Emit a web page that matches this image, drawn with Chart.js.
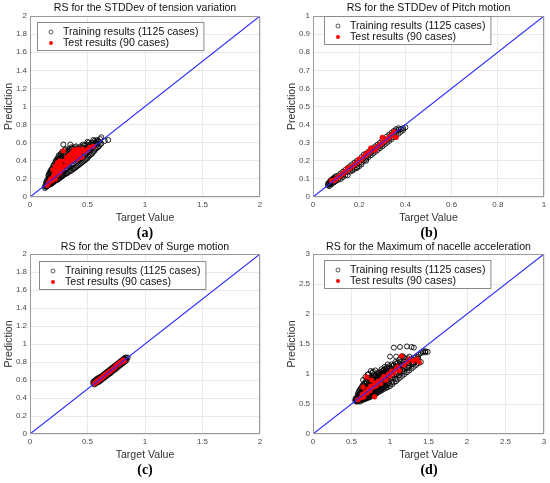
<!DOCTYPE html>
<html>
<head>
<meta charset="utf-8">
<script src="https://cdn.jsdelivr.net/npm/chart.js@4.4.1/dist/chart.umd.min.js"></script>
<style>
  body { margin: 0; background: #fff; width: 550px; height: 483px; position: relative; overflow: hidden; }
  canvas { position: absolute; }
  .tag { position: absolute; width: 40px; text-align: center; font-family: "Liberation Serif", "DejaVu Serif", serif;
         font-size: 14px; font-weight: bold; color: #000; line-height: 16px; }
</style>
</head>
<body>
<canvas id="cA" width="275" height="240" style="left:0;top:0"></canvas>
<canvas id="cB" width="275" height="240" style="left:275px;top:0"></canvas>
<canvas id="cC" width="275" height="243" style="left:0;top:240px"></canvas>
<canvas id="cD" width="275" height="243" style="left:275px;top:240px"></canvas>
<div class="tag" style="left:125px;top:225px">(a)</div>
<div class="tag" style="left:409px;top:225px">(b)</div>
<div class="tag" style="left:125px;top:462px">(c)</div>
<div class="tag" style="left:409px;top:462px">(d)</div>
<script>
// titles / labels
const titles = [
  'RS for the STDDev of tension variation',
  'RS for the STDDev of Pitch motion',
  'RS for the STDDev of Surge motion',
  'RS for the Maximum of nacelle acceleration'
];
const trainLabel = 'Training results (1125 cases)';
const testLabel = 'Test results (90 cases)';

// tick values
const ticks2 = [0, 0.2, 0.4, 0.6, 0.8, 1, 1.2, 1.4, 1.6, 1.8, 2];
const ticks2x = [0, 0.5, 1, 1.5, 2];
const ticks1 = [0, 0.1, 0.2, 0.3, 0.4, 0.5, 0.6, 0.7, 0.8, 0.9, 1];
const ticks1x = [0, 0.2, 0.4, 0.6, 0.8, 1];
const ticks3 = [0, 0.5, 1, 1.5, 2, 2.5, 3];

// training results, read per column: [target, [predictions...]]
const trainA = [
  [0.13, [0.10, 0.12]], [0.14, [0.11, 0.14, 0.16]], [0.15, [0.12, 0.15, 0.19]],
  [0.16, [0.13, 0.17, 0.21, 0.24]], [0.17, [0.14, 0.19, 0.23, 0.27]],
  [0.18, [0.14, 0.18, 0.22, 0.26, 0.29]], [0.19, [0.15, 0.20, 0.25, 0.31]],
  [0.20, [0.16, 0.19, 0.23, 0.28, 0.33]], [0.21, [0.17, 0.22, 0.26, 0.30, 0.36]],
  [0.22, [0.18, 0.21, 0.25, 0.29, 0.34, 0.38]], [0.23, [0.19, 0.24, 0.31, 0.37, 0.41]],
  [0.24, [0.19, 0.23, 0.27, 0.33, 0.39, 0.43]], [0.25, [0.20, 0.25, 0.30, 0.36, 0.42, 0.46]],
  [0.26, [0.21, 0.28, 0.34, 0.40, 0.45]], [0.27, [0.22, 0.26, 0.31, 0.38, 0.44, 0.48]],
  [0.28, [0.23, 0.29, 0.35, 0.42, 0.50]], [0.29, [0.24, 0.27, 0.33, 0.39, 0.46, 0.58]],
  [0.30, [0.25, 0.30, 0.37, 0.43, 0.49, 0.52]], [0.32, [0.26, 0.32, 0.38, 0.45, 0.51]],
  [0.34, [0.28, 0.34, 0.41, 0.47, 0.53]], [0.35, [0.29, 0.38, 0.46, 0.52, 0.58]],
  [0.36, [0.29, 0.36, 0.43, 0.50, 0.55]], [0.38, [0.31, 0.37, 0.44, 0.52]],
  [0.40, [0.33, 0.39, 0.46, 0.53, 0.56]], [0.42, [0.35, 0.41, 0.48, 0.54]],
  [0.44, [0.37, 0.43, 0.50, 0.56]], [0.46, [0.39, 0.45, 0.52, 0.58]],
  [0.48, [0.41, 0.47, 0.54]], [0.50, [0.43, 0.49, 0.55, 0.61]],
  [0.52, [0.46, 0.52, 0.58]], [0.54, [0.48, 0.54, 0.60]], [0.56, [0.51, 0.57, 0.62]],
  [0.58, [0.54, 0.59, 0.63]], [0.60, [0.56, 0.61]], [0.62, [0.59, 0.66]],
  [0.65, [0.62]], [0.68, [0.63]],
  [0.145, [0.12, 0.17]], [0.165, [0.15, 0.20, 0.25]], [0.185, [0.16, 0.21, 0.27, 0.30]],
  [0.205, [0.18, 0.24, 0.30, 0.35]], [0.225, [0.19, 0.27, 0.32, 0.40]],
  [0.245, [0.21, 0.29, 0.35, 0.41]], [0.265, [0.23, 0.30, 0.37, 0.43, 0.47]],
  [0.285, [0.24, 0.32, 0.40, 0.47]], [0.31, [0.26, 0.34, 0.41, 0.48, 0.53]],
  [0.33, [0.27, 0.35, 0.43, 0.50]], [0.37, [0.31, 0.40, 0.47, 0.54]],
  [0.39, [0.32, 0.41, 0.49, 0.55]], [0.41, [0.34, 0.43, 0.51]], [0.43, [0.36, 0.45, 0.53]],
  [0.45, [0.38, 0.47, 0.55]], [0.47, [0.40, 0.49, 0.57]], [0.49, [0.42, 0.51, 0.58]],
  [0.51, [0.45, 0.53, 0.60]], [0.53, [0.47, 0.56]], [0.55, [0.50, 0.58, 0.63]],
  [0.57, [0.53, 0.60]], [0.59, [0.55, 0.62]], [0.61, [0.58, 0.64]]
];
const trainB = [
  [0.065, [0.065, 0.075]], [0.07, [0.06, 0.07, 0.08]], [0.075, [0.07, 0.08, 0.09]],
  [0.08, [0.07, 0.085, 0.095]], [0.085, [0.08, 0.09, 0.10]], [0.09, [0.08, 0.095, 0.105]],
  [0.095, [0.085, 0.10, 0.11]], [0.10, [0.09, 0.10, 0.115]], [0.11, [0.095, 0.105, 0.12]],
  [0.12, [0.10, 0.115, 0.13]], [0.13, [0.11, 0.125, 0.14]], [0.14, [0.12, 0.135, 0.15]],
  [0.15, [0.12, 0.14, 0.16]], [0.16, [0.14, 0.155, 0.17]], [0.17, [0.145, 0.15, 0.165, 0.18]],
  [0.18, [0.155, 0.175, 0.19]], [0.19, [0.16, 0.165, 0.185, 0.20]], [0.20, [0.17, 0.19, 0.205]],
  [0.21, [0.18, 0.19, 0.205, 0.22]], [0.22, [0.20, 0.215, 0.235]], [0.23, [0.20, 0.21, 0.225, 0.24]],
  [0.24, [0.22, 0.235, 0.25]], [0.25, [0.23, 0.245, 0.26]], [0.26, [0.24, 0.255, 0.27]],
  [0.27, [0.25, 0.265, 0.28]], [0.28, [0.26, 0.275, 0.29]], [0.29, [0.27, 0.285, 0.30]],
  [0.30, [0.28, 0.295, 0.315]], [0.31, [0.29, 0.305, 0.32]], [0.32, [0.30, 0.315, 0.335]],
  [0.33, [0.31, 0.325, 0.345]], [0.34, [0.32, 0.34, 0.355]], [0.35, [0.33, 0.35, 0.365]],
  [0.36, [0.34, 0.36, 0.375]], [0.37, [0.35, 0.37, 0.38]], [0.38, [0.36, 0.375]],
  [0.39, [0.37, 0.38]], [0.40, [0.385]]
];
const trainC = [
  [0.55, [0.56, 0.58]], [0.56, [0.55, 0.57, 0.59]], [0.57, [0.56, 0.585, 0.60]],
  [0.58, [0.57, 0.59, 0.61]], [0.59, [0.575, 0.60, 0.62]], [0.60, [0.58, 0.605, 0.62]],
  [0.61, [0.59, 0.61, 0.635]], [0.62, [0.60, 0.625, 0.64]], [0.63, [0.61, 0.63, 0.65]],
  [0.64, [0.62, 0.645, 0.66]], [0.65, [0.63, 0.65, 0.67]], [0.66, [0.64, 0.665, 0.68]],
  [0.67, [0.65, 0.67, 0.69]], [0.68, [0.66, 0.685, 0.70]], [0.69, [0.67, 0.69, 0.71]],
  [0.70, [0.675, 0.70, 0.72]], [0.71, [0.69, 0.71, 0.73]], [0.72, [0.70, 0.725, 0.74]],
  [0.73, [0.71, 0.73, 0.75]], [0.74, [0.72, 0.745, 0.76]], [0.75, [0.725, 0.75, 0.77]],
  [0.76, [0.74, 0.765, 0.78]], [0.77, [0.75, 0.77, 0.79]], [0.78, [0.76, 0.785, 0.80]],
  [0.79, [0.77, 0.79, 0.81]], [0.80, [0.78, 0.805, 0.82]], [0.81, [0.79, 0.81, 0.83]],
  [0.82, [0.80, 0.825, 0.84]], [0.83, [0.81, 0.83, 0.85]], [0.84, [0.82, 0.845]],
  [0.85, [0.85]]
];
const trainD = [
  [0.55, [0.55, 0.58]], [0.57, [0.54, 0.57, 0.61]], [0.59, [0.55, 0.59, 0.64, 0.69]],
  [0.61, [0.54, 0.58, 0.62, 0.67, 0.73]], [0.63, [0.56, 0.60, 0.65, 0.71, 0.77]],
  [0.65, [0.57, 0.62, 0.68, 0.74, 0.82, 0.90]], [0.67, [0.58, 0.64, 0.70, 0.77, 0.85]],
  [0.69, [0.59, 0.65, 0.72, 0.79, 0.88]], [0.71, [0.60, 0.67, 0.74, 0.81, 0.90, 0.99]],
  [0.73, [0.61, 0.68, 0.76, 0.84, 0.93]], [0.75, [0.62, 0.70, 0.78, 0.86, 0.95, 1.05]],
  [0.77, [0.64, 0.72, 0.80, 0.88, 1.02]], [0.79, [0.65, 0.73, 0.82, 0.90, 0.97]],
  [0.81, [0.66, 0.75, 0.84, 0.92, 1.06]], [0.83, [0.68, 0.77, 0.86, 0.94]],
  [0.85, [0.70, 0.79, 0.88, 0.96, 1.03]], [0.87, [0.71, 0.81, 0.90, 0.98]],
  [0.89, [0.73, 0.83, 0.92, 1.00, 1.08]], [0.91, [0.74, 0.84, 0.94, 1.02]],
  [0.93, [0.76, 0.86, 0.96, 1.04, 1.12]], [0.95, [0.77, 0.88, 0.98, 1.06]],
  [0.97, [0.78, 0.90, 1.00, 1.08, 1.16]], [1.00, [0.80, 0.92, 1.02, 1.10, 1.29]],
  [1.03, [0.83, 0.95, 1.05, 1.13]], [1.05, [0.86, 0.98, 1.07, 1.15, 1.44]],
  [1.08, [0.88, 1.00, 1.09, 1.17, 1.29]], [1.10, [0.91, 1.02, 1.11, 1.19]],
  [1.13, [0.94, 1.05, 1.13, 1.21, 1.45]], [1.16, [0.97, 1.07, 1.15, 1.23, 1.30]],
  [1.19, [1.00, 1.09, 1.17, 1.25]], [1.22, [1.03, 1.11, 1.19, 1.46]],
  [1.25, [1.06, 1.14, 1.22, 1.29]], [1.28, [1.09, 1.17, 1.24, 1.45]],
  [1.31, [1.12, 1.19, 1.27, 1.44]], [1.34, [1.15, 1.22, 1.29]],
  [1.37, [1.18, 1.25, 1.32]], [1.40, [1.20, 1.35]], [1.43, [1.36, 1.38]],
  [1.46, [1.36, 1.38]], [1.49, [1.37]],
  [0.56, [0.56, 0.60]], [0.58, [0.55, 0.60, 0.66]], [0.60, [0.56, 0.61, 0.66, 0.72]],
  [0.62, [0.57, 0.63, 0.69, 0.76]], [0.64, [0.58, 0.64, 0.71, 0.80]],
  [0.66, [0.59, 0.66, 0.73, 0.81]], [0.68, [0.60, 0.67, 0.75, 0.84, 0.95]],
  [0.70, [0.61, 0.69, 0.77, 0.86]], [0.72, [0.62, 0.70, 0.79, 0.88, 1.00]],
  [0.74, [0.64, 0.72, 0.81, 0.90]], [0.76, [0.65, 0.74, 0.83, 0.92]],
  [0.78, [0.66, 0.76, 0.85, 0.94, 1.04]], [0.80, [0.68, 0.78, 0.87, 0.96]],
  [0.82, [0.70, 0.80, 0.89, 0.98]], [0.84, [0.72, 0.82, 0.91, 1.00]],
  [0.86, [0.73, 0.84, 0.93, 1.01]], [0.88, [0.75, 0.86, 0.95, 1.03]],
  [0.90, [0.77, 0.88, 0.97, 1.05]], [0.92, [0.79, 0.90, 0.99, 1.07]],
  [0.94, [0.80, 0.92, 1.01, 1.09]], [0.96, [0.82, 0.94, 1.03, 1.11]],
  [0.99, [0.84, 0.96, 1.05, 1.13]], [1.02, [0.87, 0.99, 1.08, 1.16]],
  [1.07, [0.92, 1.03, 1.12, 1.20]], [1.12, [0.98, 1.08, 1.16, 1.24]],
  [1.18, [1.04, 1.13, 1.21, 1.28]], [1.24, [1.10, 1.18, 1.26]],
  [1.30, [1.16, 1.23]], [1.36, [1.22, 1.28]]
];

// test results: [target, prediction]
const testA = [
  [0.15, 0.13], [0.16, 0.15], [0.17, 0.17], [0.18, 0.20], [0.19, 0.18], [0.20, 0.22],
  [0.20, 0.30], [0.21, 0.25], [0.22, 0.20], [0.22, 0.34], [0.23, 0.28], [0.24, 0.25],
  [0.24, 0.38], [0.25, 0.32], [0.26, 0.27], [0.26, 0.40], [0.27, 0.35], [0.28, 0.30],
  [0.29, 0.51], [0.30, 0.40], [0.31, 0.34], [0.32, 0.44], [0.33, 0.38], [0.34, 0.46],
  [0.35, 0.42], [0.36, 0.48], [0.37, 0.40], [0.38, 0.52], [0.39, 0.45], [0.40, 0.49],
  [0.41, 0.42], [0.42, 0.53], [0.43, 0.47], [0.44, 0.50], [0.45, 0.44], [0.46, 0.53],
  [0.48, 0.50], [0.50, 0.52], [0.52, 0.55], [0.55, 0.56]
];
const testB = [
  [0.08, 0.09], [0.09, 0.09], [0.10, 0.10], [0.11, 0.11], [0.12, 0.12], [0.13, 0.13],
  [0.14, 0.14], [0.15, 0.16], [0.15, 0.15], [0.16, 0.16], [0.17, 0.17], [0.18, 0.18],
  [0.19, 0.19], [0.20, 0.21], [0.20, 0.20], [0.21, 0.21], [0.22, 0.225], [0.23, 0.24],
  [0.23, 0.23], [0.24, 0.245], [0.25, 0.27], [0.25, 0.255], [0.26, 0.26], [0.27, 0.26],
  [0.27, 0.27], [0.28, 0.28], [0.29, 0.29], [0.30, 0.33], [0.30, 0.30], [0.31, 0.31],
  [0.32, 0.32], [0.33, 0.33], [0.34, 0.34], [0.35, 0.36], [0.36, 0.33]
];
const testC = [
  [0.56, 0.56], [0.57, 0.575], [0.58, 0.58], [0.59, 0.595], [0.60, 0.60], [0.61, 0.615],
  [0.62, 0.62], [0.63, 0.635], [0.64, 0.64], [0.65, 0.655], [0.66, 0.66], [0.67, 0.675],
  [0.68, 0.68], [0.69, 0.695], [0.70, 0.70], [0.72, 0.72], [0.74, 0.745], [0.75, 0.76],
  [0.76, 0.77], [0.77, 0.78], [0.78, 0.79], [0.79, 0.80], [0.80, 0.80], [0.81, 0.82],
  [0.82, 0.81]
];
const testD = [
  [0.58, 0.57], [0.62, 0.60], [0.64, 0.66], [0.65, 0.78], [0.66, 0.62], [0.68, 0.70],
  [0.70, 0.68], [0.70, 0.95], [0.72, 0.75], [0.74, 0.72], [0.75, 0.80], [0.76, 0.90],
  [0.78, 0.78], [0.80, 0.62], [0.80, 0.85], [0.82, 0.80], [0.85, 0.88], [0.88, 0.84],
  [0.90, 0.92], [0.92, 0.96], [0.95, 0.90], [0.98, 1.00], [1.00, 0.97], [1.02, 1.05],
  [1.05, 1.02], [1.08, 1.08], [1.10, 1.12], [1.12, 1.06], [1.15, 1.30], [1.18, 1.15],
  [1.22, 1.20], [1.25, 1.25], [1.30, 1.22], [1.35, 1.25], [1.38, 1.20]
];

const FONT = '"Liberation Sans", Arial, sans-serif';
const fmt = v => String(Math.round(v * 100) / 100);
const cols = list => list.flatMap(([x, ys]) => ys.map(y => ({ x, y })));
const pairs = list => list.map(([x, y]) => ({ x, y }));

// axes box + inset legend, drawn above the markers like matlab does
const boxLegend = {
  id: 'boxLegend',
  afterDatasetsDraw(chart, args, opts) {
    const { ctx, chartArea: a } = chart;
    ctx.save();
    ctx.strokeStyle = '#9a9a9a';
    ctx.lineWidth = 1;
    ctx.strokeRect(Math.round(a.left) + 0.5, Math.round(a.top) + 0.5,
      Math.round(a.right - a.left) - 1, Math.round(a.bottom - a.top) - 1);

    const items = chart.data.datasets.filter(d => d.label).reverse();
    ctx.font = '10.6px ' + FONT;
    const tw = Math.max(...items.map(d => ctx.measureText(d.label).width));
    const x0 = Math.round(a.left + opts.dx), y0 = Math.round(a.top + opts.dy);
    const w = 26 + tw + 5, h = 28;
    ctx.fillStyle = '#fff';
    ctx.fillRect(x0, y0, w, h);
    ctx.strokeStyle = '#8a8a8a';
    ctx.strokeRect(x0 + 0.5, y0 + 0.5, w, h);
    items.forEach((d, i) => {
      const cy = y0 + 10 + i * 11;
      ctx.beginPath();
      ctx.arc(x0 + 14, cy, 2, 0, Math.PI * 2);
      if (d.borderWidth) {
        ctx.strokeStyle = '#333';
        ctx.lineWidth = 0.8;
        ctx.stroke();
      } else {
        ctx.fillStyle = d.backgroundColor;
        ctx.fill();
      }
      ctx.fillStyle = '#111';
      ctx.textBaseline = 'middle';
      ctx.fillText(d.label, x0 + 26, cy + 0.5);
    });
    ctx.restore();
  }
};

function panel(id, o) {
  const tickFont = { family: FONT, size: 8 };
  const axisFont = { family: FONT, size: 10.6 };
  const setTicks = list => s => { s.ticks = list.map(v => ({ value: v })); };
  return new Chart(document.getElementById(id), {
    type: 'scatter',
    data: {
      datasets: [
        {
          label: '', data: [{ x: 0, y: 0 }, { x: o.max, y: o.max }], showLine: true,
          borderColor: '#2a2aff', borderWidth: 1.1, pointRadius: 0
        },
        {
          label: testLabel, data: pairs(o.test), pointRadius: 2.6,
          backgroundColor: '#ff0000', borderWidth: 0
        },
        {
          label: trainLabel, data: cols(o.train), pointRadius: 2.5,
          backgroundColor: 'rgba(0,0,0,0)', borderColor: 'rgba(0,0,0,0.9)', borderWidth: 0.95
        }
      ]
    },
    options: {
      responsive: false,
      animation: false,
      events: [],
      layout: { padding: o.pad },
      scales: {
        x: {
          min: 0, max: o.max,
          afterBuildTicks: setTicks(o.xTicks),
          afterFit: s => { s.height = 29; },
          ticks: { callback: fmt, font: tickFont, color: '#4a4a4a', padding: 3, autoSkip: false, maxRotation: 0 },
          grid: { color: '#e9e9e9', drawTicks: false },
          border: { display: false },
          title: { display: true, text: 'Target Value', font: axisFont, color: '#333', padding: { top: 0, bottom: 1.6 } }
        },
        y: {
          min: 0, max: o.max,
          afterBuildTicks: setTicks(o.yTicks),
          afterFit: s => { s.width = 30; },
          ticks: { callback: fmt, font: tickFont, color: '#4a4a4a', padding: 3, autoSkip: false },
          grid: { color: '#e9e9e9', drawTicks: false },
          border: { display: false },
          title: { display: true, text: 'Prediction', font: axisFont, color: '#333', padding: { top: 2.6, bottom: 0 } }
        }
      },
      plugins: {
        legend: { display: false },
        tooltip: { enabled: false },
        title: {
          display: true, text: o.title, fullSize: false, color: '#111',
          font: { family: FONT, size: 10.6, weight: 'normal' }, padding: o.titlePad
        },
        boxLegend: o.legend
      }
    },
    plugins: [boxLegend]
  });
}

panel('cA', {
  title: titles[0], train: trainA, test: testA, max: 2, xTicks: ticks2x, yTicks: ticks2,
  pad: { left: 0, right: 15, top: 0, bottom: 14 }, titlePad: { top: 2, bottom: 1.3 }, legend: { dx: 7, dy: 6 }
});
panel('cB', {
  title: titles[1], train: trainB, test: testB, max: 1, xTicks: ticks1x, yTicks: ticks1,
  pad: { left: 8, right: 6, top: 0, bottom: 14 }, titlePad: { top: 2, bottom: 1.3 }, legend: { dx: 11, dy: 0 }
});
panel('cC', {
  title: titles[2], train: trainC, test: testC, max: 2, xTicks: ticks2x, yTicks: ticks2,
  pad: { left: 0, right: 15, top: 0, bottom: 20 }, titlePad: { top: 0.6, bottom: 0.7 }, legend: { dx: 9, dy: 7 }
});
panel('cD', {
  title: titles[3], train: trainD, test: testD, max: 3, xTicks: ticks3, yTicks: ticks3,
  pad: { left: 8, right: 6, top: 0, bottom: 20 }, titlePad: { top: 0.6, bottom: 0.7 }, legend: { dx: 11, dy: 6 }
});
</script>
</body>
</html>
